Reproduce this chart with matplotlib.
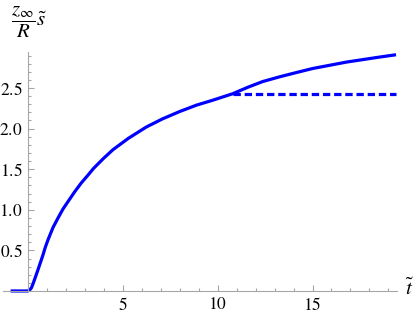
import matplotlib
matplotlib.use("Agg")
import matplotlib.pyplot as plt
from matplotlib.ticker import FixedLocator

# curve
t_vals = [-0.9, 0.0, 0.1, 0.2, 0.3, 0.42, 0.54, 0.67, 0.8, 0.93, 1.07, 1.33,
          1.6, 1.86, 2.12, 2.47, 2.82, 3.15, 3.47, 3.98, 4.49, 5.3, 6.25, 7.1,
          8.0, 8.9, 9.75, 10.8, 11.6, 12.38, 13.3, 14.14, 15.0, 15.9, 16.8,
          17.65, 18.5, 19.4]
s_vals = [0.0, 0.0, 0.01, 0.04, 0.1, 0.18, 0.26, 0.35, 0.44, 0.54, 0.63, 0.78,
          0.90, 1.01, 1.10, 1.22, 1.33, 1.42, 1.51, 1.63, 1.74, 1.88, 2.02,
          2.12, 2.21, 2.29, 2.35, 2.43, 2.51, 2.58, 2.64, 2.69, 2.74, 2.78,
          2.82, 2.85, 2.88, 2.91]
cut_t = [10.8, 19.4]
cut_s = [2.43, 2.43]

x_major = [5, 10, 15]
y_major = [0.5, 1.0, 1.5, 2.0, 2.5]

plt.rcParams["font.family"] = "serif"
plt.rcParams["font.serif"] = ["Liberation Serif", "DejaVu Serif"]
plt.rcParams["mathtext.fontset"] = "stix"

fig = plt.figure(figsize=(4.15, 3.14), dpi=100)
ax = fig.add_axes([3 / 415, (314 - 299.1) / 314, 394 / 415, 246.8 / 314])
ax.set_xlim(-1.3, 19.45)
ax.set_ylim(-0.1, 2.94)

blue = "#0000ff"
ax.plot(t_vals, s_vals, color=blue, lw=2.3, solid_capstyle="butt",
        solid_joinstyle="round", clip_on=False)
ax.plot(cut_t, cut_s, color=blue, lw=2.3, dashes=(2.3, 1.2), clip_on=False)

for side in ("top", "right"):
    ax.spines[side].set_visible(False)
axis_grey = "#a6a6a6"
ax.spines["left"].set_position(("data", 0))
ax.spines["bottom"].set_position(("data", 0))
ax.spines["left"].set_bounds(0, 2.94)
ax.spines["bottom"].set_bounds(-1.3, 19.45)
for side in ("left", "bottom"):
    ax.spines[side].set_color(axis_grey)
    ax.spines[side].set_linewidth(0.8)

ax.xaxis.set_major_locator(FixedLocator(x_major))
ax.xaxis.set_minor_locator(FixedLocator([v for v in range(1, 20) if v % 5]))
ax.yaxis.set_major_locator(FixedLocator(y_major))
ax.yaxis.set_minor_locator(FixedLocator([i / 10 for i in range(1, 30) if i % 5]))
ax.set_xticklabels([rf"$\mathrm{{{v}}}$" for v in x_major])
ax.set_yticklabels([rf"$\mathrm{{{v:.1f}}}$" for v in y_major])

ax.tick_params(which="both", direction="in", color=axis_grey, width=0.8,
               labelsize=12.5, labelcolor="black")
ax.tick_params(which="major", length=4.5)
ax.tick_params(which="minor", length=2.5)
ax.tick_params(axis="x", pad=4)
ax.tick_params(axis="y", pad=4)

fig.text(410 / 415, 1 - 289 / 314, r"$\tilde{t}$", fontsize=15, ha="center", va="center")
fig.text(29 / 415, 1 - 22 / 314, r"$\dfrac{z_\infty}{R}\tilde{s}$", fontsize=15,
         ha="center", va="center")

fig.savefig("out.png", dpi=100)
